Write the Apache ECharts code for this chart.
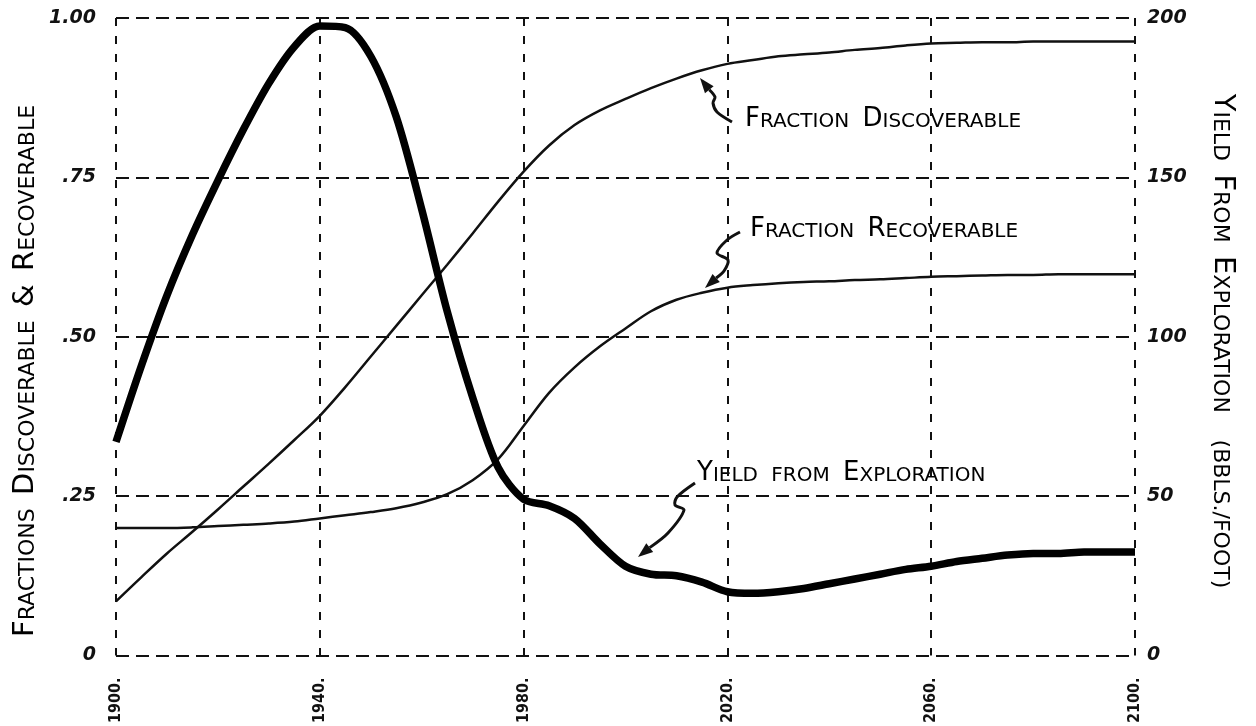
<!DOCTYPE html>
<html>
<head>
<meta charset="utf-8">
<script src="https://cdn.jsdelivr.net/npm/echarts@6/dist/echarts.min.js"></script>
<style>
html,body{margin:0;padding:0;background:#fff}
#chart{width:1256px;height:726px}
</style>
</head>
<body>
<div id="chart"></div>
<script>
const years = [1900,1905,1910,1915,1920,1925,1930,1935,1940,1945,1950,1955,1960,1965,1970,1975,1980,1985,1990,1995,2000,
  2005,2010,2015,2020,2025,2030,2035,2040,2045,2050,2055,2060,2065,2070,2075,2080,2085,2090,2095,2100]
const fracDiscoverable = [0.085,0.123,0.160,0.194,0.229,0.265,0.301,0.338,0.376,0.421,0.469,0.517,0.565,0.613,0.662,0.712,0.759,0.800,0.832,0.855,0.873,
  0.890,0.905,0.918,0.928,0.934,0.940,0.943,0.946,0.950,0.953,0.957,0.960,0.961,0.962,0.962,0.963,0.963,0.963,0.963,0.963]
const fracRecoverable = [0.200,0.200,0.200,0.201,0.203,0.205,0.207,0.210,0.215,0.220,0.225,0.231,0.240,0.253,0.275,0.308,0.360,0.412,0.452,0.485,0.513,
  0.540,0.558,0.569,0.577,0.581,0.584,0.586,0.587,0.589,0.590,0.592,0.594,0.595,0.596,0.597,0.597,0.598,0.598,0.598,0.598]
const yieldExploration = [67,91,113,132,149,165,179.5,191,197.5,197,188,169,140,108,81,59,49,47,43,35,28,
  25.5,25,23,20,19.5,20,21,22.5,24,25.5,27,28,29.5,30.5,31.5,32,32,32.5,32.5,32.5]
const leftTicks = ['0', '.25', '.50', '.75', '1.00']
const rightTicks = ['0', '50', '100', '150', '200']

const ink = '#111'
let chart = echarts.init(document.getElementById('chart'))
const pair = arr => years.map((y, i) => [y, arr[i]])

// small caps via rich text
const capRich = (big, small) => ({
  b: {fontFamily: 'DejaVu Sans', fontSize: big, color: ink, verticalAlign: 'bottom', lineHeight: big + 2},
  s: {fontFamily: 'DejaVu Sans', fontSize: small, color: ink, verticalAlign: 'bottom', lineHeight: big + 2}
})

function arrow(pts) {
  const n = pts.length
  const [x1, y1] = pts[n - 2], [x2, y2] = pts[n - 1]
  const a = Math.atan2(y2 - y1, x2 - x1), L = 15, W = 5.5
  const bx = x2 - L * Math.cos(a), by = y2 - L * Math.sin(a)
  return [
    {type: 'polyline', shape: {points: pts.slice(0, n - 1).concat([[bx, by]]), smooth: 0.3},
      style: {stroke: ink, lineWidth: 3, fill: null}},
    {type: 'polygon', shape: {points: [[x2, y2], [bx + W * Math.sin(a), by - W * Math.cos(a)], [bx - W * Math.sin(a), by + W * Math.cos(a)]]},
      style: {fill: ink}}
  ]
}

const note = (x, y, text) => ({type: 'text', x: x, y: y,
  style: {text: text, rich: capRich(26, 20), verticalAlign: 'middle'}})
const title = (x, y, rot, text) => ({type: 'text', x: x, y: y, rotation: rot,
  style: {text: text, rich: capRich(29, 22), align: 'center', verticalAlign: 'middle'}})

chart.setOption({
  animation: false,
  grid: {left: 116, right: 121, top: 18, bottom: 65},
  xAxis: {
    type: 'value', min: 1900, max: 2100, interval: 40,
    axisLine: {show: false}, axisTick: {show: false},
    splitLine: {show: true, lineStyle: {color: ink, width: 2, type: [8, 10]}},
    axisLabel: {rotate: 90, margin: 22, formatter: v => v + '.', fontFamily: '"DejaVu Sans Condensed", "Liberation Sans", sans-serif',
      fontWeight: 'bold', fontSize: 16, color: ink}
  },
  yAxis: [
    {
      type: 'value', min: 0, max: 1, interval: 0.25,
      axisLine: {show: false}, axisTick: {show: false},
      splitLine: {show: true, lineStyle: {color: ink, width: 2, type: [13, 7]}},
      axisLabel: {margin: 20, formatter: v => leftTicks[Math.round(v / 0.25)], fontFamily: 'DejaVu Sans', fontStyle: 'italic',
        fontWeight: 'bold', fontSize: 19, color: ink}
    },
    {
      type: 'value', min: 0, max: 200, interval: 50, position: 'right',
      axisLine: {show: false}, axisTick: {show: false}, splitLine: {show: false},
      axisLabel: {margin: 12, formatter: v => rightTicks[Math.round(v / 50)], fontFamily: 'DejaVu Sans', fontStyle: 'italic',
        fontWeight: 'bold', fontSize: 19, color: ink}
    }
  ],
  series: [
    {name: 'Fraction Discoverable', type: 'line', data: pair(fracDiscoverable), smooth: 0.35, showSymbol: false,
      lineStyle: {color: ink, width: 2.5}},
    {name: 'Fraction Recoverable', type: 'line', data: pair(fracRecoverable), smooth: 0.35, showSymbol: false,
      lineStyle: {color: ink, width: 2.5}},
    {name: 'Yield from Exploration', type: 'line', yAxisIndex: 1, data: pair(yieldExploration), smooth: 0.3, showSymbol: false,
      lineStyle: {color: '#000', width: 7.5}}
  ],
  graphic: [
    title(24, 371, Math.PI / 2, '{b|F}{s|RACTIONS}    {b|D}{s|ISCOVERABLE}    {b|&}    {b|R}{s|ECOVERABLE}'),
    title(1224, 341, -Math.PI / 2, '{b|Y}{s|IELD}    {b|F}{s|ROM}    {b|E}{s|XPLORATION}        {s|(BBLS./FOOT)}'),
    note(745, 118, '{b|F}{s|RACTION}    {b|D}{s|ISCOVERABLE}'),
    note(750, 228, '{b|F}{s|RACTION}    {b|R}{s|ECOVERABLE}'),
    note(697, 472, '{b|Y}{s|IELD}    {s|FROM}    {b|E}{s|XPLORATION}')
  ].concat(
    arrow([[732, 122], [717, 112], [713, 103], [715, 97], [700, 78]]),
    arrow([[740, 232], [727, 240], [717, 253], [728, 260], [724, 271], [705, 288]]),
    arrow([[695, 483], [677, 497], [675, 505], [684, 510], [668, 533], [638, 557]])
  )
})
</script>
</body>
</html>
